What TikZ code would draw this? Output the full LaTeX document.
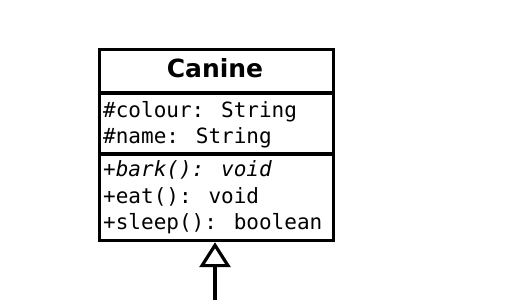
\documentclass[tikz,border=0pt]{standalone}
\usepackage{fontspec}
\setmainfont{DejaVu Sans}
\newfontfamily\umlmono{DejaVu Sans Mono}
\usetikzlibrary{arrows.meta}
\begin{document}
\begin{tikzpicture}[x=1pt,y=-1pt,
  classbox/.style={draw, line width=3.2pt, inner sep=0pt, minimum width=234pt, minimum height=191pt, anchor=north west},
  divider/.style={line width=3.2pt},
  member/.style={anchor=base west, inner sep=0pt, font=\umlmono\fontsize{21}{26}\selectfont},
  title/.style={anchor=base, inner sep=0pt, font=\bfseries\fontsize{25}{30}\selectfont},
  inherit/.style={line width=3.2pt, -{Triangle[open, length=25pt, width=31pt]}}]
\useasboundingbox (0,0) rectangle (512,300);
% class box and compartments
\node[classbox] (canine) at (98,48) {};
\draw[divider] (canine.west |- 0,93) -- (canine.east |- 0,93);
\draw[divider] (canine.west |- 0,154) -- (canine.east |- 0,154);
% name
\node[title] (cname) at (215,77) {Canine};
% attributes
\node[member] (a1) at (103,117) {\#colour: String};
\node[member] (a2) at (103,143) {\#name: String};
% operations
\node[member] (m1) at (103,176) {\textit{+bark(): void}};
\node[member] (m2) at (103,203) {+eat(): void};
\node[member] (m3) at (103,229) {+sleep(): boolean};
% generalization from the subclass below
\coordinate (sub) at (215,302);
\draw[inherit] (sub) -- (sub |- canine.south);
\end{tikzpicture}
\end{document}
